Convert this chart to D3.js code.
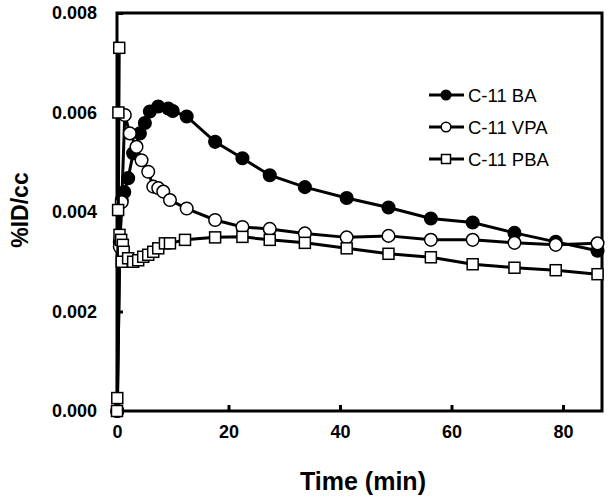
<!DOCTYPE html>
<html><head><meta charset="utf-8">
<script src="https://cdn.jsdelivr.net/npm/d3@7"></script>
<style>body{margin:0;background:#fff}svg{display:block}text{font-family:"Liberation Sans",Arial,sans-serif;font-weight:bold;fill:#000}</style>
</head><body><svg id="c" width="612" height="502"></svg>
<script>
const baTime = [0.05,0.5,0.85,1.3,2.0,2.9,4.1,5.0,5.9,7.4,9.2,10.0,12.5,17.6,22.5,27.4,33.7,41.2,48.7,56.3,63.8,71.3,78.7,86.2];
const baValue = [0.0000,0.0034,0.00424,0.0044,0.00468,0.00518,0.00558,0.00579,0.00602,0.00612,0.00608,0.00603,0.00592,0.00541,0.00508,0.00474,0.00450,0.00428,0.00409,0.00387,0.00379,0.00358,0.00340,0.00322];
const vpaTime = [0.05,0.5,0.85,1.4,2.3,3.5,4.4,5.6,6.5,7.4,8.3,9.5,12.5,17.6,22.5,27.4,33.7,41.2,48.7,56.3,63.8,71.3,78.7,86.2];
const vpaValue = [0.0000,0.0033,0.0042,0.00595,0.00558,0.00531,0.00504,0.00481,0.00451,0.00448,0.00441,0.00424,0.00407,0.00384,0.00370,0.00366,0.00357,0.00349,0.00352,0.00344,0.00344,0.00338,0.00334,0.00337];
const pbaTime = [0.0,0.05,0.4,0.25,0.2,0.45,0.75,1.05,1.2,0.85,2.0,2.9,3.8,4.7,5.6,6.5,7.4,8.6,9.5,12.2,17.6,22.5,27.4,33.7,41.2,48.7,56.3,63.8,71.3,78.7,86.2];
const pbaValue = [0.0000,0.00026,0.0073,0.0060,0.00404,0.00354,0.00344,0.00334,0.0032,0.0030,0.00307,0.0030,0.00303,0.0031,0.00314,0.0032,0.00327,0.00337,0.00337,0.00344,0.00349,0.00350,0.00344,0.00338,0.00327,0.00316,0.00309,0.00295,0.00288,0.00283,0.00275];
const xTicks = [0,20,40,60,80];
const yTicks = [0,0.002,0.004,0.006,0.008];
const seriesNames = ["C-11 BA","C-11 VPA","C-11 PBA"];

const svg = d3.select("#c");
const x = d3.scaleLinear().domain([0,87]).range([117,602]);
const y = d3.scaleLinear().domain([0,0.008]).range([411,13]);

const xa = svg.append("g").attr("transform","translate(0,411)")
  .call(d3.axisBottom(x).tickValues(xTicks).tickSizeInner(-6).tickSizeOuter(0).tickPadding(14).tickFormat(d3.format("d")));
const ya = svg.append("g").attr("transform","translate(117,0)")
  .call(d3.axisLeft(y).tickValues(yTicks).tickSizeInner(-6).tickSizeOuter(0).tickPadding(20).tickFormat(d3.format(".3f")));
[xa,ya].forEach(a=>{a.select(".domain").remove();a.selectAll("line").attr("stroke","#000").attr("stroke-width",3);a.selectAll("text").style("font-size","18px");});
xa.selectAll("text").attr("dy","0.71em");
svg.append("rect").attr("x",117).attr("y",13).attr("width",485).attr("height",398).attr("fill","none").attr("stroke","#000").attr("stroke-width",3);

svg.append("text").attr("transform","translate(28,210) rotate(-90)").attr("text-anchor","middle").style("font-size","23px").text("%ID/cc");
svg.append("text").attr("x",363).attr("y",490).attr("text-anchor","middle").style("font-size","25px").text("Time (min)");

const line = d3.line().x(d=>x(d[0])).y(d=>y(d[1]));
const series = [
  {t:baTime,v:baValue,type:"circle",fill:"#000"},
  {t:vpaTime,v:vpaValue,type:"circle",fill:"#fff"},
  {t:pbaTime,v:pbaValue,type:"square",fill:"#fff"}
];
function marker(g,type,fill,cx,cy,s){
  if(type==="circle") g.append("circle").attr("cx",cx).attr("cy",cy).attr("r",s).attr("fill",fill).attr("stroke","#000").attr("stroke-width",1.5);
  else g.append("rect").attr("x",cx-s).attr("y",cy-s).attr("width",2*s).attr("height",2*s).attr("fill",fill).attr("stroke","#000").attr("stroke-width",1.5);
}
const plot = svg.append("g");
series.forEach(s=>{
  const pts = s.t.map((t,i)=>[t,s.v[i]]);
  const g = plot.append("g");
  g.append("path").attr("d",line(pts)).attr("fill","none").attr("stroke","#000").attr("stroke-width",3);
  pts.forEach(p=>marker(g,s.type,s.fill,x(p[0]),y(p[1]),s.type==="circle"?6.3:5.5));
});

const lg = svg.append("g");
series.forEach((s,i)=>{
  const yy = 95 + i*32;
  lg.append("line").attr("x1",429).attr("x2",464).attr("y1",yy).attr("y2",yy).attr("stroke","#000").attr("stroke-width",3);
  marker(lg,s.type,s.fill,446,yy,s.type==="circle"?4.8:4.5);
  lg.append("text").attr("x",468).attr("y",yy).attr("dy","0.36em").style("font-size","18.5px").style("font-weight","normal").text(seriesNames[i]);
});
</script></body></html>
